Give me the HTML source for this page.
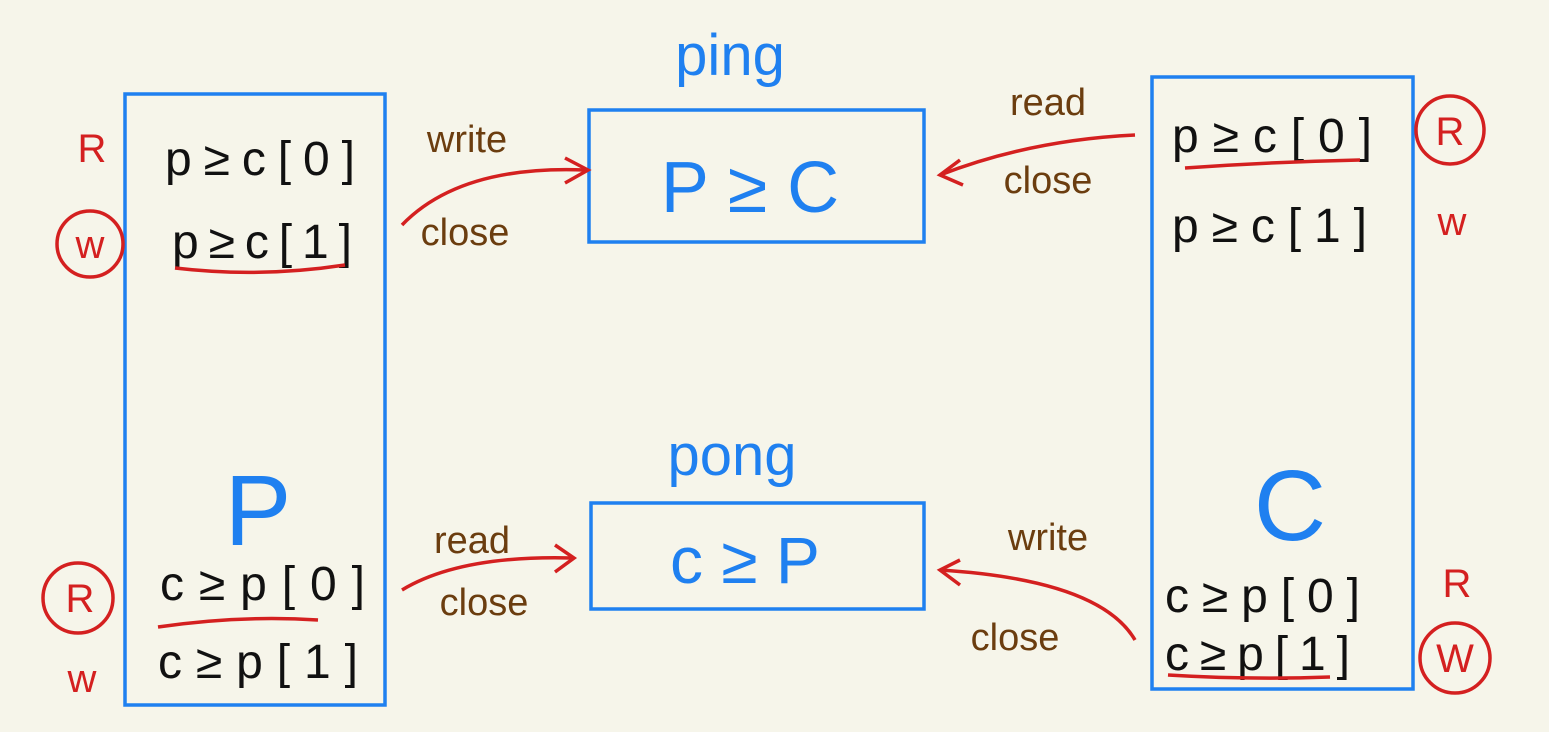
<!DOCTYPE html>
<html><head><meta charset="utf-8"><style>
html,body{margin:0;padding:0;background:#f6f5ea}
svg{display:block}
text{font-family:"Liberation Sans",sans-serif}
.b{fill:#1f80f0}.k{fill:#111}.r{fill:#d42020}.br{fill:#6b3d0f}
</style></head><body>
<svg width="1549" height="732" viewBox="0 0 1549 732" xmlns="http://www.w3.org/2000/svg">
<rect width="1549" height="732" fill="#f6f5ea"/>
<g fill="none" stroke="#1f80f0" stroke-width="3.5">
<rect x="125" y="94" width="260" height="611"/>
<rect x="589" y="110" width="335" height="132"/>
<rect x="591" y="503" width="333" height="106"/>
<rect x="1152" y="77" width="261" height="612"/>
</g>
<text x="730" y="75" font-size="58" class="b" text-anchor="middle">ping</text>
<text x="732" y="475" font-size="58" class="b" text-anchor="middle">pong</text>
<text x="750" y="212" font-size="72" class="b" text-anchor="middle">P ≥ C</text>
<text x="745" y="583" font-size="66" class="b" text-anchor="middle">c ≥ P</text>
<text x="258" y="545" font-size="100" class="b" text-anchor="middle">P</text>
<text x="1290" y="540" font-size="100" class="b" text-anchor="middle">C</text>
<g font-size="48" class="k" lengthAdjust="spacing">
<text x="165" y="175" textLength="190">p≥c[0]</text>
<text x="172" y="258" textLength="180">p≥c[1]</text>
<text x="160" y="600" textLength="205">c≥p[0]</text>
<text x="158" y="678" textLength="200">c≥p[1]</text>
<text x="1172" y="152" textLength="200">p≥c[0]</text>
<text x="1172" y="242" textLength="195">p≥c[1]</text>
<text x="1165" y="612" textLength="195">c≥p[0]</text>
<text x="1165" y="670" textLength="185">c≥p[1]</text>
</g>
<g font-size="40" class="r" text-anchor="middle">
<text x="92" y="162">R</text>
<text x="90" y="258">w</text>
<text x="80" y="612">R</text>
<text x="82" y="692">w</text>
<text x="1450" y="145">R</text>
<text x="1452" y="235">w</text>
<text x="1457" y="597">R</text>
<text x="1455" y="672">W</text>
</g>
<g fill="none" stroke="#d42020" stroke-width="3.5">
<circle cx="90" cy="244" r="33"/>
<circle cx="78" cy="598" r="35"/>
<circle cx="1450" cy="130" r="34"/>
<circle cx="1455" cy="658" r="35"/>
<path d="M175 268 Q260 278 345 265"/>
<path d="M158 627 Q240 615 318 620"/>
<path d="M1185 168 Q1270 162 1360 160"/>
<path d="M1168 675 Q1250 680 1330 677"/>
<path d="M402 225 Q460 165 585 170"/>
<path d="M565 158 L588 170 L565 183"/>
<path d="M1135 135 Q1030 140 940 175"/>
<path d="M960 160 L940 175 L963 185"/>
<path d="M402 590 Q460 555 572 558"/>
<path d="M555 545 L574 558 L555 572"/>
<path d="M1135 640 Q1100 580 940 570"/>
<path d="M960 560 L940 570 L960 585"/>
</g>
<g font-size="38" class="br" text-anchor="middle">
<text x="467" y="152">write</text>
<text x="465" y="245">close</text>
<text x="1048" y="115">read</text>
<text x="1048" y="193">close</text>
<text x="472" y="553">read</text>
<text x="484" y="615">close</text>
<text x="1048" y="550">write</text>
<text x="1015" y="650">close</text>
</g>
</svg>
</body></html>
